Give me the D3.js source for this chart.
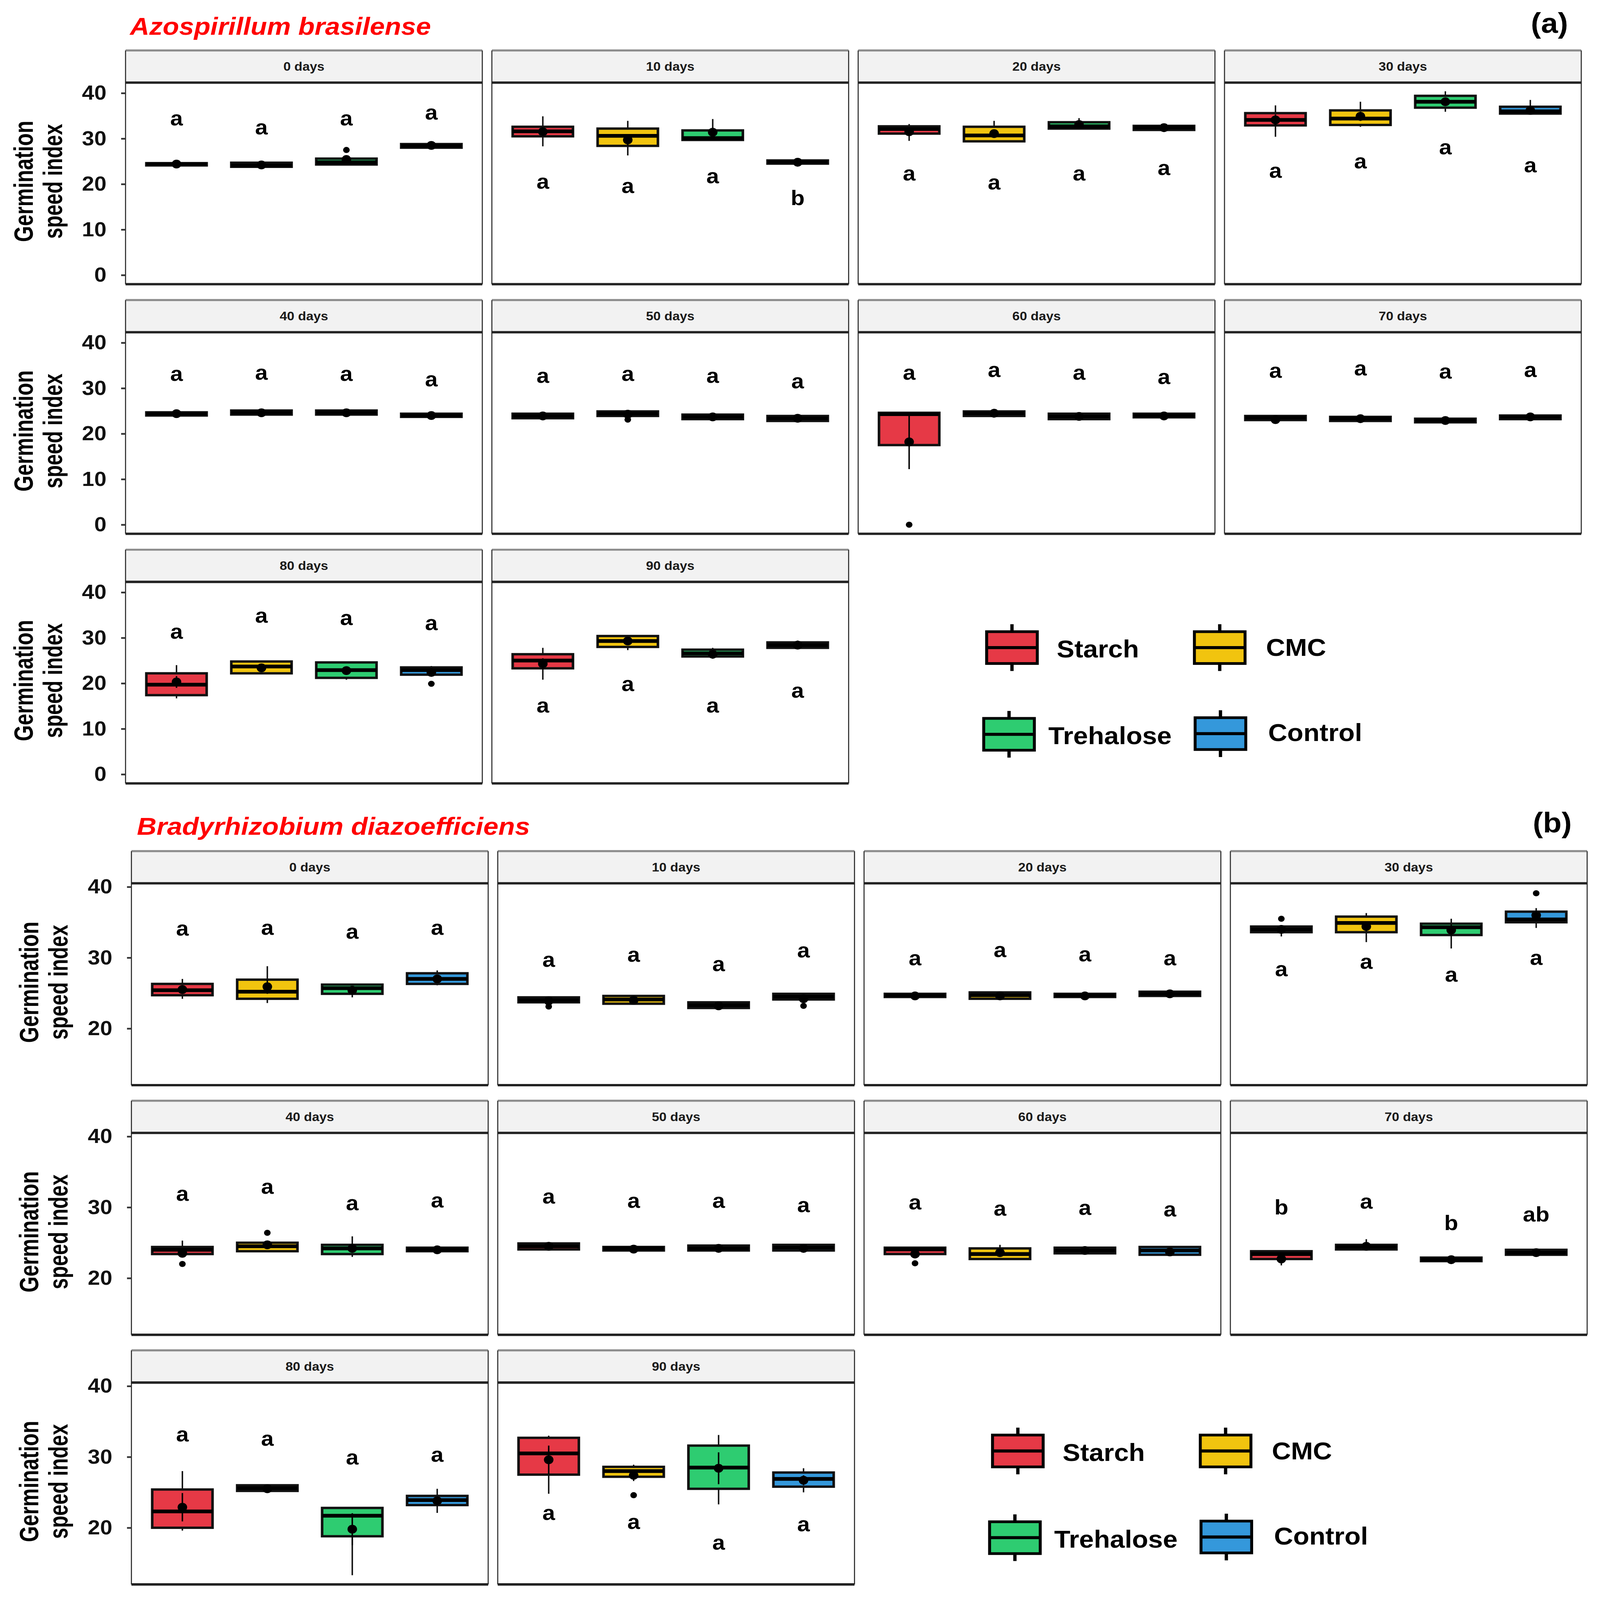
<!DOCTYPE html>
<html>
<head>
<meta charset="utf-8">
<title>Germination speed index</title>
<script src="https://cdn.jsdelivr.net/npm/d3@7"></script>
<style>
  html, body { margin: 0; padding: 0; background: #fff; width: 100%; height: 100%; overflow: hidden; }
  svg { display: block; width: 100vw; height: 100vh; }
</style>
</head>
<body>
<svg id="chart" viewBox="0 0 4359 4724" preserveAspectRatio="none"></svg>
<script>
// --- shared categories ---
const treatments = ["Starch", "CMC", "Trehalose", "Control"];
const treatmentColors = ["#e63946", "#f1c40f", "#2ecc71", "#3498db"];
const days = ["0 days", "10 days", "20 days", "30 days", "40 days",
              "50 days", "60 days", "70 days", "80 days", "90 days"];

// --- (a) Azospirillum brasilense: one row per day, columns = treatments ---
const azoQ1 = [
  [24.1, 23.8, 24.3, 28.0], [30.5, 28.4, 29.7, 24.5], [31.1, 29.4, 32.2, 31.9], [32.9, 33.0, 36.8, 35.5],
  [24.0, 24.2, 24.2, 23.7], [23.4, 23.9, 23.2, 22.8], [17.5, 23.9, 23.2, 23.6], [23.0, 22.8, 22.5, 23.2],
  [17.4, 22.2, 21.2, 21.9], [23.3, 28.0, 25.9, 27.8]
];
const azoMedian = [
  [24.4, 24.1, 24.8, 28.4], [31.6, 30.6, 30.1, 24.8], [32.1, 30.7, 32.7, 32.4], [34.1, 34.4, 38.1, 36.0],
  [24.4, 24.6, 24.6, 24.0], [23.9, 24.4, 23.7, 23.4], [24.3, 24.5, 23.8, 24.0], [23.5, 23.3, 22.9, 23.7],
  [19.7, 23.7, 22.9, 22.9], [25.0, 29.3, 26.6, 28.4]
];
const azoQ3 = [
  [24.6, 24.7, 25.6, 28.8], [32.6, 32.2, 31.8, 25.2], [32.7, 32.6, 33.6, 32.8], [35.6, 36.2, 39.4, 37.0],
  [24.7, 25.1, 25.1, 24.4], [24.4, 24.9, 24.2, 23.9], [24.6, 24.9, 24.4, 24.4], [23.9, 23.7, 23.3, 24.0],
  [22.2, 24.8, 24.6, 23.5], [26.4, 30.4, 27.4, 29.0]
];
const azoLow = [
  [24.0, 23.7, 24.2, 27.9], [28.3, 26.3, 29.7, 24.4], [29.5, 29.4, 32.2, 31.8], [30.4, 32.6, 35.9, 35.5],
  [23.9, 24.1, 24.1, 23.6], [23.3, 23.8, 23.1, 22.7], [17.5, 23.8, 23.1, 23.5], [22.9, 22.7, 22.4, 23.1],
  [16.7, 22.2, 20.8, 21.9], [20.8, 27.3, 25.4, 27.5]
];
const azoHigh = [
  [24.7, 24.8, 25.8, 28.9], [34.9, 33.9, 34.3, 25.3], [33.2, 33.9, 34.5, 32.9], [37.3, 38.1, 40.4, 38.5],
  [24.8, 25.2, 25.2, 24.5], [24.5, 25.0, 24.3, 24.0], [24.7, 25.0, 24.5, 24.5], [24.0, 23.8, 23.4, 24.1],
  [24.0, 24.8, 24.6, 23.8], [27.8, 30.6, 27.8, 29.4]
];
const azoMean = [
  [24.4, 24.2, 25.4, 28.5], [31.5, 29.7, 31.4, 24.8], [31.5, 31.1, 33.1, 32.4], [34.1, 34.9, 38.1, 36.2],
  [24.4, 24.6, 24.6, 24.0], [23.9, 24.3, 23.7, 23.4], [18.2, 24.5, 23.8, 23.9], [23.1, 23.3, 22.9, 23.7],
  [20.3, 23.4, 22.8, 22.4], [24.3, 29.3, 26.4, 28.4]
];
const azoSE = [
  [0.6, 0.6, 0.6, 0.5], [1.0, 1.2, 1.0, 0.3], [0.8, 0.8, 0.5, 0.3], [1.2, 1.0, 0.8, 0.5],
  [0.5, 0.5, 0.5, 0.5], [0.5, 0.5, 0.5, 0.5], [6.0, 0.5, 0.5, 0.6], [0.5, 0.5, 0.5, 0.5],
  [1.3, 0.6, 0.8, 0.7], [1.2, 0.6, 0.5, 0.4]
];
// [day index, treatment index, value]
const azoOutliers = [[0, 2, 27.5], [5, 1, 23.1], [6, 0, 0.0], [8, 3, 19.9]];
const azoLetters = [
  ["a", "a", "a", "a"], ["a", "a", "a", "b"], ["a", "a", "a", "a"], ["a", "a", "a", "a"],
  ["a", "a", "a", "a"], ["a", "a", "a", "a"], ["a", "a", "a", "a"], ["a", "a", "a", "a"],
  ["a", "a", "a", "a"], ["a", "a", "a", "a"]
];
const azoLetterY = [
  [34.3, 32.3, 34.3, 35.6], [20.4, 19.4, 21.6, 16.8], [22.2, 20.2, 22.2, 23.4], [22.8, 24.8, 27.9, 24.0],
  [33.0, 33.3, 33.0, 31.8], [32.6, 33.0, 32.6, 31.4], [33.3, 33.9, 33.3, 32.3], [33.7, 34.2, 33.5, 33.9],
  [31.2, 34.7, 34.2, 33.1], [15.0, 19.7, 15.0, 18.2]
];
const azoTicks = [0, 10, 20, 30, 40];

// --- (b) Bradyrhizobium diazoefficiens ---
const bradyQ1 = [
  [24.7, 24.2, 24.9, 26.3], [23.7, 23.5, 22.9, 24.1], [24.45, 24.2, 24.45, 24.6], [33.6, 33.6, 33.2, 35.0],
  [23.4, 23.8, 23.4, 23.8], [24.05, 23.9, 23.9, 23.9], [23.4, 22.7, 23.5, 23.3], [22.7, 24.05, 22.4, 23.3],
  [20.0, 25.2, 18.8, 23.2], [27.5, 27.2, 25.5, 25.8]
];
const bradyMedian = [
  [25.4, 25.2, 25.7, 27.0], [24.0, 24.1, 23.3, 24.5], [24.7, 24.7, 24.7, 24.9], [34.0, 34.9, 34.3, 35.4],
  [24.0, 24.5, 24.2, 24.05], [24.5, 24.2, 24.2, 24.3], [24.05, 23.4, 23.9, 23.9], [23.4, 24.4, 22.6, 23.6],
  [22.3, 25.6, 21.7, 23.9], [30.5, 28.0, 28.5, 26.9]
];
const bradyQ3 = [
  [26.3, 26.9, 26.2, 27.8], [24.4, 24.6, 23.7, 24.9], [24.9, 25.1, 24.9, 25.2], [34.4, 35.8, 34.8, 36.5],
  [24.4, 25.0, 24.7, 24.3], [24.9, 24.4, 24.6, 24.7], [24.3, 24.2, 24.3, 24.4], [23.8, 24.7, 22.9, 24.0],
  [25.4, 26.0, 22.8, 24.5], [32.7, 28.6, 31.6, 27.8]
];
const bradyLow = [
  [24.2, 23.6, 24.4, 26.1], [23.6, 23.4, 22.8, 24.0], [24.4, 24.1, 24.4, 24.5], [33.0, 32.2, 31.3, 34.2],
  [23.4, 23.8, 23.0, 23.7], [24.0, 23.8, 23.8, 23.8], [23.4, 22.7, 23.4, 23.3], [21.8, 24.0, 22.3, 23.2],
  [19.6, 25.0, 13.3, 22.1], [24.8, 27.2, 23.3, 25.0]
];
const bradyHigh = [
  [27.0, 28.8, 26.2, 28.2], [24.5, 24.7, 23.8, 25.0], [25.0, 25.2, 25.0, 25.3], [34.6, 36.3, 35.5, 37.0],
  [25.3, 25.3, 25.9, 24.4], [25.0, 24.5, 24.7, 24.8], [24.3, 24.7, 24.4, 24.5], [23.8, 25.5, 23.0, 24.1],
  [28.0, 26.1, 22.8, 25.5], [33.0, 28.9, 33.1, 28.4]
];
const bradyMean = [
  [25.5, 25.9, 25.4, 27.0], [23.9, 24.0, 23.2, 24.2], [24.6, 24.6, 24.6, 24.9], [34.0, 34.4, 33.9, 36.0],
  [23.5, 24.7, 24.2, 24.0], [24.5, 24.1, 24.2, 24.2], [23.4, 23.6, 23.9, 23.7], [22.7, 24.5, 22.6, 23.6],
  [22.9, 25.5, 19.8, 23.8], [29.6, 27.4, 28.4, 26.7]
];
const bradySE = [
  [0.6, 1.0, 0.5, 0.5], [0.4, 0.4, 0.3, 0.4], [0.3, 0.3, 0.3, 0.3], [0.4, 0.7, 0.8, 0.6],
  [0.5, 0.4, 0.5, 0.3], [0.3, 0.3, 0.3, 0.3], [0.3, 0.5, 0.3, 0.3], [0.4, 0.4, 0.3, 0.3],
  [2.0, 0.3, 2.25, 0.5], [2.0, 0.8, 2.25, 0.7]
];
const bradyOutliers = [[1, 0, 23.1], [1, 3, 23.2], [3, 0, 35.5], [3, 3, 39.1],
                       [4, 0, 22.0], [4, 1, 26.4], [6, 0, 22.1], [9, 1, 24.6]];
const bradyLetters = [
  ["a", "a", "a", "a"], ["a", "a", "a", "a"], ["a", "a", "a", "a"], ["a", "a", "a", "a"],
  ["a", "a", "a", "a"], ["a", "a", "a", "a"], ["a", "a", "a", "a"], ["b", "a", "b", "ab"],
  ["a", "a", "a", "a"], ["a", "a", "a", "a"]
];
const bradyLetterY = [
  [34.0, 34.1, 33.6, 34.1], [29.6, 30.3, 29.0, 30.9], [29.8, 31.0, 30.4, 29.8], [28.3, 29.3, 27.5, 29.9],
  [31.8, 32.8, 30.5, 30.9], [31.4, 30.8, 30.8, 30.2], [30.6, 29.7, 29.8, 29.6], [29.9, 30.7, 27.7, 28.9],
  [33.1, 32.5, 29.8, 30.2], [22.0, 20.7, 17.8, 20.4]
];
const bradyTicks = [20, 30, 40];

const svg = d3.select("#chart");
svg.append("rect").attr("width", 4359).attr("height", 4724).attr("fill", "#fff");

const FONT = "'Liberation Sans', Arial, sans-serif";
const NARROW = "'Liberation Sans Narrow', 'Liberation Sans', Arial, sans-serif";

function drawSpecies(sp, L) {
  const root = svg.append("g");

  // species title and tag
  root.append("text")
    .attr("x", L.titleX).attr("y", L.titleY)
    .attr("textLength", L.titleLen).attr("lengthAdjust", "spacingAndGlyphs")
    .style("font-family", FONT).style("font-weight", "bold").style("font-style", "italic")
    .style("font-size", "72px").style("fill", "#ff0000")
    .text(sp.title);
  root.append("text")
    .attr("x", L.tagX).attr("y", L.tagY).attr("text-anchor", "end")
    .style("font-family", FONT).style("font-weight", "bold").style("font-size", "83px")
    .text(sp.tag);

  days.forEach((day, i) => {
    const row = Math.floor(i / 4), col = i % 4;
    const px = L.left + col * L.colStep;
    const stripTop = L.top + row * L.rowStep;
    const plotTop = stripTop + L.stripH;
    const plotBottom = plotTop + L.plotH;

    const x = d3.scalePoint().domain(treatments).range([px, px + L.panelW]).padding(0.6);
    const y = d3.scaleLinear().domain(L.yDomain).range([plotBottom, plotTop]);
    const bw = x.step() * 0.71;

    const g = root.append("g");

    // strip
    g.append("rect").attr("x", px).attr("y", stripTop)
      .attr("width", L.panelW).attr("height", L.stripH).attr("fill", "#f2f2f2");
    g.append("text")
      .attr("x", px + L.panelW / 2).attr("y", stripTop + L.stripH / 2)
      .attr("dy", "0.35em").attr("text-anchor", "middle")
      .style("font-family", FONT).style("font-weight", "bold").style("font-size", "36px")
      .style("fill", "#1a1a1a")
      .text(day);

    const stats = treatments.map((t, j) => ({
      t, j,
      q1: sp.q1[i][j], med: sp.med[i][j], q3: sp.q3[i][j],
      lo: sp.lo[i][j], hi: sp.hi[i][j],
      mean: sp.mean[i][j], se: sp.se[i][j],
      letter: sp.letters[i][j], letterY: sp.letterY[i][j]
    }));

    const box = g.selectAll(".box").data(stats).join("g").attr("class", "box");

    // whiskers
    box.append("line")
      .attr("x1", d => x(d.t)).attr("x2", d => x(d.t))
      .attr("y1", d => y(d.hi)).attr("y2", d => y(d.q3))
      .attr("stroke", "#111").attr("stroke-width", 4);
    box.append("line")
      .attr("x1", d => x(d.t)).attr("x2", d => x(d.t))
      .attr("y1", d => y(d.q1)).attr("y2", d => y(d.lo))
      .attr("stroke", "#111").attr("stroke-width", 4);

    // box body
    box.append("rect")
      .attr("x", d => x(d.t) - bw / 2).attr("y", d => y(d.q3))
      .attr("width", bw).attr("height", d => Math.max(0, y(d.q1) - y(d.q3)))
      .attr("fill", d => treatmentColors[d.j])
      .attr("stroke", "#111").attr("stroke-width", 7);

    // median
    box.append("line")
      .attr("x1", d => x(d.t) - bw / 2).attr("x2", d => x(d.t) + bw / 2)
      .attr("y1", d => y(d.med)).attr("y2", d => y(d.med))
      .attr("stroke", "#000").attr("stroke-width", 11);

    // outliers
    g.selectAll(".outlier")
      .data(sp.outliers.filter(o => o[0] === i))
      .join("circle").attr("class", "outlier")
      .attr("cx", o => x(treatments[o[1]])).attr("cy", o => y(o[2]))
      .attr("r", 9).attr("fill", "#000");

    // mean +/- se
    box.append("line")
      .attr("x1", d => x(d.t)).attr("x2", d => x(d.t))
      .attr("y1", d => y(d.mean + d.se)).attr("y2", d => y(d.mean - d.se))
      .attr("stroke", "#000").attr("stroke-width", 4);
    box.append("circle")
      .attr("cx", d => x(d.t)).attr("cy", d => y(d.mean))
      .attr("r", 13).attr("fill", "#000");

    // letters
    box.append("text")
      .attr("x", d => x(d.t)).attr("y", d => y(d.letterY))
      .attr("dy", "0.3em").attr("text-anchor", "middle")
      .style("font-family", NARROW).style("font-weight", "bold").style("font-size", "62px")
      .text(d => d.letter);

    // panel borders
    g.append("line").attr("x1", px).attr("x2", px + L.panelW)
      .attr("y1", stripTop).attr("y2", stripTop)
      .attr("stroke", "#8c8c8c").attr("stroke-width", 6);
    g.append("line").attr("x1", px).attr("x2", px)
      .attr("y1", stripTop).attr("y2", plotBottom)
      .attr("stroke", "#333").attr("stroke-width", 3);
    g.append("line").attr("x1", px + L.panelW).attr("x2", px + L.panelW)
      .attr("y1", stripTop).attr("y2", plotBottom)
      .attr("stroke", "#333").attr("stroke-width", 3);
    g.append("line").attr("x1", px).attr("x2", px + L.panelW)
      .attr("y1", plotTop).attr("y2", plotTop)
      .attr("stroke", "#222").attr("stroke-width", 7);
    g.append("line").attr("x1", px).attr("x2", px + L.panelW)
      .attr("y1", plotBottom).attr("y2", plotBottom)
      .attr("stroke", "#222").attr("stroke-width", 7);

    // y axis on the first column only
    if (col === 0) {
      const axis = g.append("g")
        .attr("transform", `translate(${px},0)`)
        .call(d3.axisLeft(y).tickValues(sp.ticks).tickSize(12).tickPadding(40));
      axis.select(".domain").remove();
      axis.selectAll(".tick line").attr("stroke", "#333").attr("stroke-width", 5);
      axis.selectAll(".tick text")
        .style("font-family", FONT).style("font-weight", "bold").style("font-size", "60px")
        .style("fill", "#111");

      const mid = (plotTop + plotBottom) / 2 - 6;
      const yt = g.append("g").attr("transform", `translate(${L.yTitleX},${mid}) rotate(-90)`);
      yt.append("text").attr("x", 0).attr("y", 0).attr("text-anchor", "middle")
        .attr("textLength", 358).attr("lengthAdjust", "spacingAndGlyphs")
        .style("font-family", NARROW).style("font-weight", "bold").style("font-size", "72px")
        .text("Germination");
      yt.append("text").attr("x", 0).attr("y", 80).attr("text-anchor", "middle")
        .attr("textLength", 339).attr("lengthAdjust", "spacingAndGlyphs")
        .style("font-family", NARROW).style("font-weight", "bold").style("font-size", "72px")
        .text("speed index");
    }
  });

  drawLegend(root, L.legendDX, L.legendDY);
}

// legend with boxplot keys; positions relative to the (a) figure
const legendKeyX = [2688, 3254, 2680, 3256];
const legendKeyTop = [1865, 1865, 2121, 2119];
const legendTextX = [2879, 3449, 2856, 3455];
const legendTextY = [1941, 1937, 2197, 2188];

function drawLegend(root, dx, dy) {
  const kw = 138, kh = 94, ext = 22;
  const lg = root.append("g").attr("transform", `translate(${dx},${dy})`);
  const item = lg.selectAll(".key").data(treatments).join("g").attr("class", "key");
  item.append("line")
    .attr("x1", (d, j) => legendKeyX[j] + kw / 2).attr("x2", (d, j) => legendKeyX[j] + kw / 2)
    .attr("y1", (d, j) => legendKeyTop[j] - ext).attr("y2", (d, j) => legendKeyTop[j] + kh + ext)
    .attr("stroke", "#000").attr("stroke-width", 9);
  item.append("rect")
    .attr("x", (d, j) => legendKeyX[j]).attr("y", (d, j) => legendKeyTop[j])
    .attr("width", kw).attr("height", kh)
    .attr("fill", (d, j) => treatmentColors[j])
    .attr("stroke", "#000").attr("stroke-width", 8);
  item.append("line")
    .attr("x1", (d, j) => legendKeyX[j]).attr("x2", (d, j) => legendKeyX[j] + kw)
    .attr("y1", (d, j) => legendKeyTop[j] + kh / 2).attr("y2", (d, j) => legendKeyTop[j] + kh / 2)
    .attr("stroke", "#000").attr("stroke-width", 9);
  item.append("text")
    .attr("x", (d, j) => legendTextX[j]).attr("y", (d, j) => legendTextY[j])
    .style("font-family", FONT).style("font-weight", "bold").style("font-size", "72px")
    .text(d => d);
}

drawSpecies(
  { title: "Azospirillum brasilense", tag: "(a)",
    q1: azoQ1, med: azoMedian, q3: azoQ3, lo: azoLow, hi: azoHigh,
    mean: azoMean, se: azoSE, outliers: azoOutliers,
    letters: azoLetters, letterY: azoLetterY, ticks: azoTicks },
  { left: 342, top: 149, colStep: 998, rowStep: 737, panelW: 972, stripH: 95, plotH: 595,
    yDomain: [-2.0, 42.3], titleX: 354, titleY: 103, titleLen: 820, tagX: 4272, tagY: 97,
    yTitleX: 89, legendDX: 0, legendDY: 0 }
);

drawSpecies(
  { title: "Bradyrhizobium diazoefficiens", tag: "(b)",
    q1: bradyQ1, med: bradyMedian, q3: bradyQ3, lo: bradyLow, hi: bradyHigh,
    mean: bradyMean, se: bradySE, outliers: bradyOutliers,
    letters: bradyLetters, letterY: bradyLetterY, ticks: bradyTicks },
  { left: 358, top: 2513, colStep: 998, rowStep: 737, panelW: 972, stripH: 95, plotH: 596,
    yDomain: [12.0, 40.5], titleX: 373, titleY: 2465, titleLen: 1071, tagX: 4282, tagY: 2458,
    yTitleX: 104, legendDX: 16, legendDY: 2372 }
);
</script>
</body>
</html>
